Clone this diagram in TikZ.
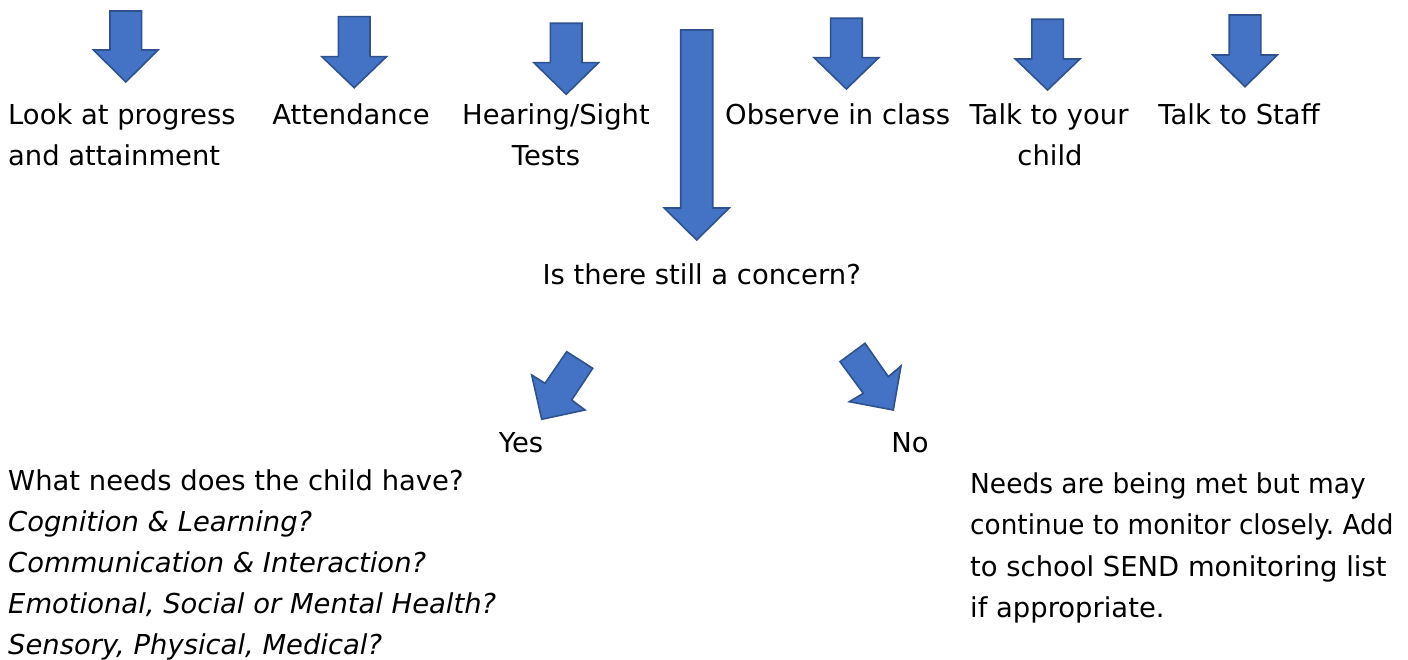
\documentclass[tikz,border=0pt]{standalone}
\usepackage{fontspec}
\setmainfont{DejaVu Sans}
\frenchspacing
\definecolor{arrfill}{RGB}{68,114,196}
\definecolor{arrline}{RGB}{47,82,143}
\newcommand{\blockdown}[4]{% cx, top, neck, tip
  \draw[barrow] ({#1-15.8},#2) -- ({#1+15.8},#2) -- ({#1+15.8},#3) -- ({#1+32.3},#3)
    -- (#1,#4) -- ({#1-32.3},#3) -- ({#1-15.8},#3) -- cycle;}
\begin{document}
\begin{tikzpicture}[x=1pt,y=-1pt,
  barrow/.style={fill=arrfill,draw=arrline,line width=1.6pt,line join=miter},
  txt/.style={inner sep=0pt,anchor=base west,font=\fontsize{27.4}{41.5}\selectfont},
  ctxt/.style={txt,anchor=base},
  itxt/.style={txt,font=\fontsize{27.4}{41.5}\selectfont\itshape}]
\fill[white] (0,0) rectangle (1408,660);
\useasboundingbox (0,0) rectangle (1408,660);
% down arrows
\blockdown{125.8}{11}{50}{82}
\blockdown{354.2}{16.7}{56.7}{87.7}
\blockdown{566.2}{23.3}{62.7}{94.3}
\draw[barrow] ({696.7-16},30) -- ({696.7+16},30) -- ({696.7+16},208) -- ({696.7+32.5},208)
  -- (696.7,240) -- ({696.7-32.5},208) -- ({696.7-16},208) -- cycle;
\blockdown{846.4}{18.3}{57.7}{89}
\blockdown{1047.6}{19.3}{59}{90}
\blockdown{1245}{15}{55}{86.7}
% diagonal arrows
\draw[barrow] (566.7,351.7) -- (592.7,368.3) -- (571.7,400) -- (585,410) -- (541.7,419.3)
  -- (531.7,375) -- (545,383.3) -- cycle;
\draw[barrow] (840,361.7) -- (865,343.3) -- (888.3,376.7) -- (901,366) -- (893.3,410)
  -- (849.3,401.7) -- (863.3,393.3) -- cycle;
% top labels
\node[txt] (l1a) at (8,125) {Look at progress};
\node[txt] (l1b) at (8,166) {and attainment};
\node[ctxt] (l2) at (351,125) {Attendance};
\node[ctxt] (l3a) at (556,125) {Hearing/Sight};
\node[ctxt] (l3b) at (546,166) {Tests};
\node[txt] (l5) at (725,125) {Observe in class};
\node[ctxt] (l6a) at (1049,125) {Talk to your};
\node[ctxt] (l6b) at (1050,166) {child};
\node[ctxt] (l7) at (1239,125) {Talk to Staff};
% question
\node[ctxt] (q) at (701.7,285) {Is there still a concern?};
\node[ctxt] (yes) at (521,452) {Yes};
\node[ctxt] (no) at (910,452) {No};
% left block
\node[txt] (y1) at (8,490) {What needs does the child have?};
\node[itxt] (y2) at (8,531) {Cognition \& Learning?};
\node[itxt] (y3) at (8,572) {Communication \& Interaction?};
\node[itxt] (y4) at (8,613) {Emotional, Social or Mental Health?};
\node[itxt] (y5) at (8,654) {Sensory, Physical, Medical?};
% right block
\node[txt] (n1) at (970,493) {\scalebox{0.965}[1]{Needs are being met but may}};
\node[txt] (n2) at (970,534.5) {\scalebox{0.96}[1]{continue to monitor closely. Add}};
\node[txt] (n3) at (970,576) {to school SEND monitoring list};
\node[txt] (n4) at (970,617.5) {if appropriate.};
\end{tikzpicture}
\end{document}
